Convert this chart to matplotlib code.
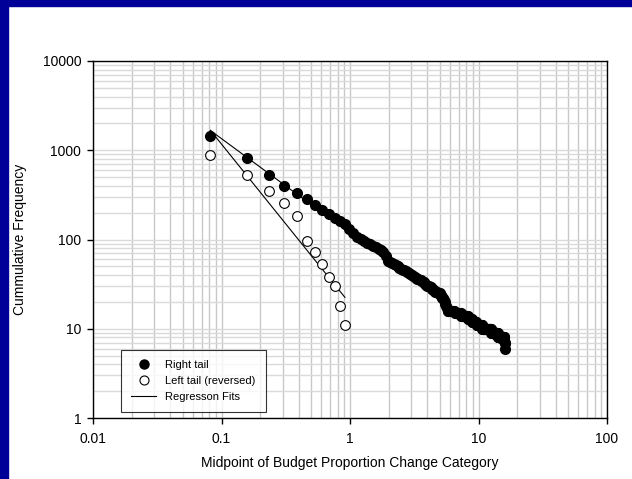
import matplotlib.pyplot as plt
import matplotlib.ticker as ticker
import numpy as np

plt.rcParams['font.family'] = ['Liberation Sans', 'DejaVu Sans']

# budget change categories: midpoint of first bin and bin width
first_mid = 0.082
bin_width = 0.0755

# cumulative frequencies, right tail
right_tail = [1450, 820, 530, 400, 330, 285, 245, 212, 192, 176, 162, 150, 132, 117,
              108, 101, 96, 91, 88, 85, 82, 79, 76, 72, 66, 58,
              56, 54, 53, 52, 50, 48, 47, 46, 45, 44, 43, 42, 41, 40, 39, 38, 37, 36,
              36, 35, 35, 34, 33, 33, 32, 31, 30, 30, 29,
              29, 28, 28, 27, 27, 26, 26, 26, 25, 25, 25, 24, 23, 22, 22,
              21, 20, 19, 18, 17, 16, 16, 16,
              16, 16, 16, 16, 16, 16, 16, 16,
              15, 15, 15, 15, 15, 15, 15, 15, 15, 15,
              14, 14, 14, 14, 14, 14, 14, 14, 14, 14, 14, 14, 14,
              13, 13, 13, 13, 13, 13, 13, 13,
              12, 12, 12, 12, 12, 12, 12, 12, 12, 12,
              11, 11, 11, 11, 11, 11, 11, 11, 11, 11, 11, 11, 11, 11,
              10, 10, 10, 10, 10, 10, 10, 10, 10, 10, 10, 10, 10,
              10, 10, 10, 10, 10, 10, 10, 10, 10, 10, 10, 10,
              9, 9, 9, 9, 9, 9, 9, 9, 9, 9, 9, 9, 9, 9, 9, 9, 9, 9, 9, 9, 9,
              8, 8, 8, 8, 8, 8, 8, 8, 8, 8, 8, 8, 8, 8, 8, 8, 8, 8, 8, 8, 8, 8, 8,
              7, 7, 6]

# cumulative frequencies, left tail (reversed)
left_tail = [885, 532, 352, 254, 182, 95, 73, 53, 38, 30, 18, 11]

# regression fits, log10(y) = a + b*log10(x)
right_fit = (2.07, -1.06)
left_fit = (1.281, -1.788)

right_x = first_mid + bin_width * np.arange(len(right_tail))
left_x = first_mid + bin_width * np.arange(len(left_tail))

fig = plt.figure(figsize=(6.32, 4.79), dpi=100)
fig.patches.append(plt.Rectangle((0, 0), 8 / 632, 1, transform=fig.transFigure,
                                 color='#000099', zorder=0))
fig.patches.append(plt.Rectangle((0, 1 - 6 / 479), 1, 6 / 479, transform=fig.transFigure,
                                 color='#000099', zorder=0))

ax = fig.add_axes([93 / 632, 61 / 479, 514 / 632, 357 / 479])
ax.set_xscale('log')
ax.set_yscale('log')
ax.set_xlim(0.01, 100)
ax.set_ylim(1, 10000)

ax.grid(True, which='both', axis='x', color='#c8c8c8', linewidth=1)
ax.grid(True, which='both', axis='y', color='#dadada', linewidth=1)
ax.set_axisbelow(True)

fmt = ticker.FuncFormatter(lambda v, p: '%g' % v)
ax.xaxis.set_major_formatter(fmt)
ax.yaxis.set_major_formatter(fmt)
ax.xaxis.set_minor_formatter(ticker.NullFormatter())
ax.yaxis.set_minor_formatter(ticker.NullFormatter())
ax.tick_params(which='major', direction='out', length=4, width=1, labelsize=10)
ax.tick_params(axis='x', which='major', pad=6)
ax.tick_params(axis='y', which='major', pad=4.5)
ax.tick_params(which='minor', length=0)
for s in ax.spines.values():
    s.set_linewidth(1)

for fit, xs in [(right_fit, right_x), (left_fit, left_x)]:
    fx = np.array([xs[0], xs[-1]])
    fy = 10 ** (fit[0] + fit[1] * np.log10(fx))
    ax.plot(fx, fy, color='black', linewidth=0.8, zorder=2)

ax.plot(right_x, right_tail, 'o', color='black', markersize=7, zorder=3)
ax.plot(left_x, left_tail, 'o', markerfacecolor='white', markeredgecolor='black',
        markeredgewidth=0.8, markersize=7, zorder=3)

h1, = ax.plot([], [], 'o', color='black', markersize=6.5)
h2, = ax.plot([], [], 'o', markerfacecolor='white', markeredgecolor='black',
              markeredgewidth=0.8, markersize=6.5)
h3, = ax.plot([], [], color='black', linewidth=0.8)
leg = ax.legend([h1, h2, h3], ['Right tail', 'Left tail (reversed)', 'Regresson Fits'],
                loc='lower left', bbox_to_anchor=(0.054, 0.017), borderaxespad=0,
                fontsize=8, frameon=True, fancybox=False, edgecolor='black',
                handlelength=2.3, handletextpad=0.8, labelspacing=0.55,
                borderpad=0.9)
leg.get_frame().set_linewidth(0.8)

ax.set_xlabel('Midpoint of Budget Proportion Change Category', fontsize=10)
ax.set_ylabel('Cummulative Frequency', fontsize=10)
ax.xaxis.set_label_coords(0.5, -0.106)
ax.yaxis.set_label_coords(-0.128, 0.5)

fig.savefig('out.png', dpi=100)
